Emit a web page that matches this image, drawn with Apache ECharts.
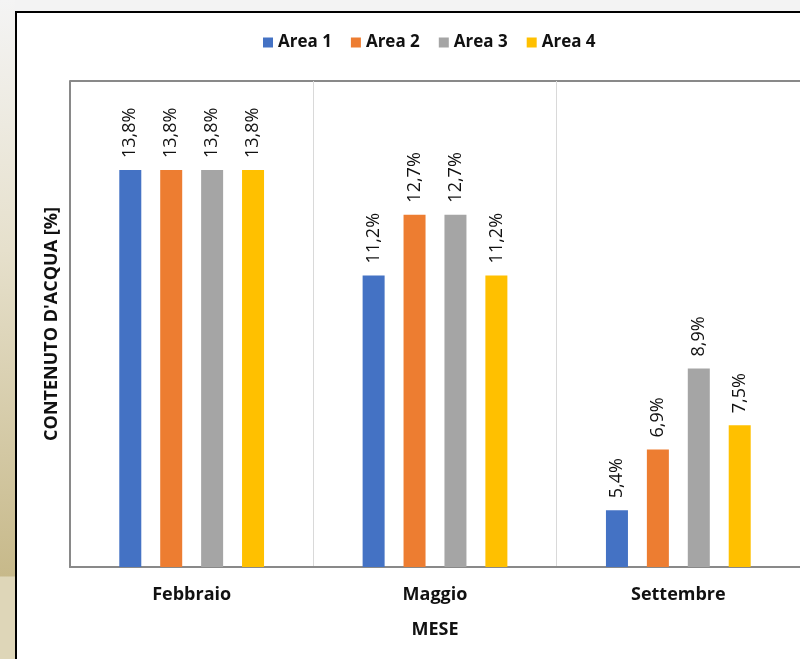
<!DOCTYPE html>
<html>
<head>
<meta charset="utf-8">
<script src="https://cdn.jsdelivr.net/npm/echarts@6/dist/echarts.min.js"></script>
<style>
  html, body { margin: 0; padding: 0; }
  body {
    width: 800px; height: 659px; overflow: hidden; position: relative;
    background: #f3f3f3;
  }
  #strip {
    position: absolute; left: 0; top: 0; width: 15px; height: 659px;
    background: linear-gradient(to bottom, #f4f4f4 0px, #e6e0cc 250px, #c7b98a 576px, #ded6b8 577px, #ded6b8 659px);
  }
  #frame {
    position: absolute; left: 15px; top: 11px; width: 800px; height: 660px;
    border-left: 2px solid #000; border-top: 2px solid #000; background: #fff;
  }
  #main { position: absolute; left: 0; top: 0; width: 783px; height: 646px; }
</style>
</head>
<body>
<div id="strip"></div>
<div id="frame"><div id="main"></div></div>
<script>
// data
const months = ["Febbraio", "Maggio", "Settembre"];
const seriesNames = ["Area 1", "Area 2", "Area 3", "Area 4"];
const area1 = [13.8, 11.2, 5.4];
const area2 = [13.8, 12.7, 6.9];
const area3 = [13.8, 12.7, 8.9];
const area4 = [13.8, 11.2, 7.5];
const colors = ["#4472c4", "#ed7d31", "#a5a5a5", "#ffc000"];

const font = "'Open Sans', 'Noto Sans', sans-serif";
const allData = [area1, area2, area3, area4];

var chart = echarts.init(document.getElementById("main"));

var series = seriesNames.map(function (name, i) {
  return {
    name: name,
    type: "bar",
    data: allData[i],
    barWidth: 22,
    barGap: "86%",
    itemStyle: { color: colors[i] },
    label: {
      show: true,
      position: "top",
      rotate: 90,
      align: "left",
      verticalAlign: "middle",
      distance: 12,
      color: "#111",
      fontFamily: font,
      fontSize: 18,
      formatter: function (p) {
        return p.value.toFixed(1).replace(".", ",") + "%";
      }
    }
  };
});

chart.setOption({
  animation: false,
  color: colors,
  textStyle: { fontFamily: font },
  legend: {
    top: 16,
    left: 241,
    itemWidth: 10,
    itemHeight: 10,
    itemGap: 19,
    icon: "rect",
    textStyle: { fontSize: 17, fontWeight: "bold", color: "#111", fontFamily: font }
  },
  grid: { left: 53, right: 0, top: 68, bottom: 92 },
  xAxis: {
    type: "category",
    data: months,
    name: "MESE",
    nameLocation: "middle",
    nameGap: 54,
    nameTextStyle: { fontSize: 18, fontWeight: "bold", color: "#111", fontFamily: font },
    axisLine: { lineStyle: { color: "#898989", width: 2 } },
    axisTick: { show: false },
    axisLabel: { fontSize: 18, fontWeight: "bold", color: "#111", margin: 19, fontFamily: font },
    splitLine: { show: true, lineStyle: { color: "#d9d9d9", width: 1 } }
  },
  yAxis: {
    type: "value",
    min: 4,
    max: 16,
    name: "CONTENUTO D'ACQUA [%]",
    nameLocation: "middle",
    nameGap: 9,
    nameTextStyle: { fontSize: 18, fontWeight: "bold", color: "#111", fontFamily: font },
    axisLine: { show: true, lineStyle: { color: "#898989", width: 2 } },
    axisTick: { show: false },
    axisLabel: { show: false },
    splitLine: { show: false }
  },
  graphic: [{
    type: "line",
    shape: { x1: 53, y1: 68, x2: 783, y2: 68 },
    style: { stroke: "#898989", lineWidth: 2 },
    silent: true
  }],
  series: series
});
</script>
</body>
</html>
